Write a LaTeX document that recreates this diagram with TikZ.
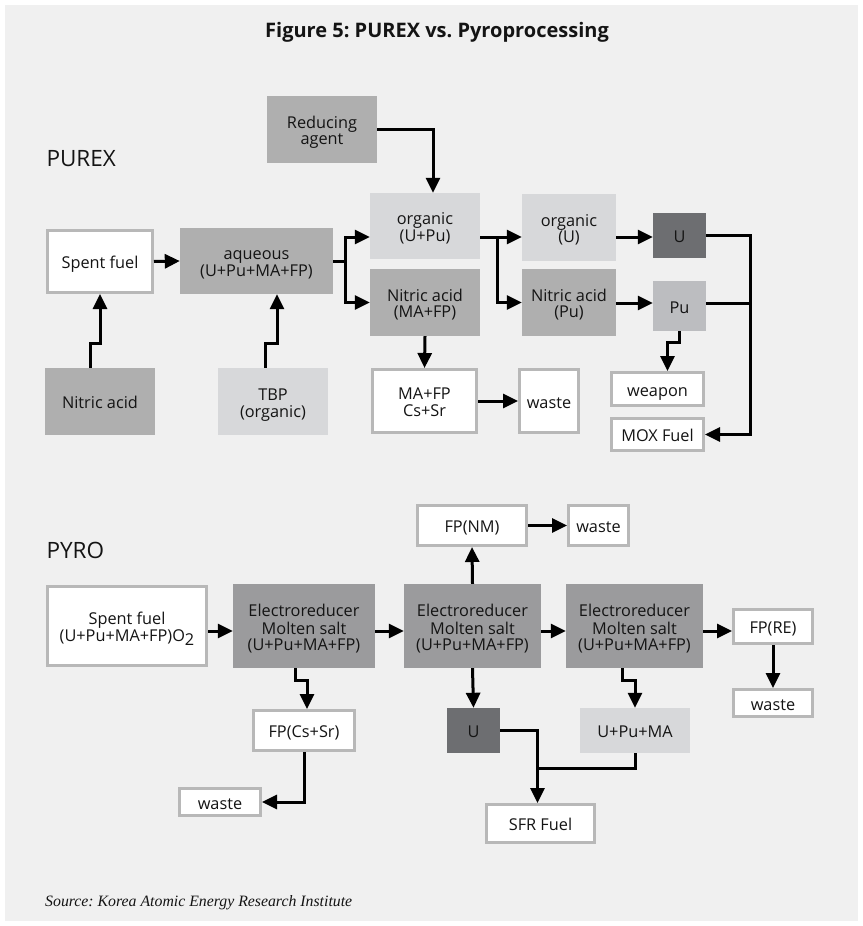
\documentclass[tikz,border=0pt]{standalone}
\usepackage{fontspec}
\setmainfont{Open Sans}
\newfontfamily\boxfont{Open Sans}
\newfontfamily\srcfont{Liberation Serif}
\usetikzlibrary{arrows.meta}
\definecolor{bg}{HTML}{F0F0F0}
\definecolor{medg}{HTML}{AFAFAF}
\definecolor{lightg}{HTML}{D7D8DA}
\definecolor{darkg}{HTML}{6D6E71}
\definecolor{pug}{HTML}{BCBDC0}
\definecolor{elecg}{HTML}{9B9B9D}
\definecolor{bordg}{HTML}{B8B8B8}
\definecolor{txt}{HTML}{141414}
% multi-line text, baseline at first line
\newcommand\tl[1]{\begin{tabular}[t]{@{}c@{}}#1\end{tabular}}
% filled box given by outer corners
\newcommand\bx[7]{\node[#6,minimum width={(#4)-(#2)},minimum height={(#5)-(#3)}] (#1) at ({((#2)+(#4))/2},{((#3)+(#5))/2}) {#7};}
% bordered box given by outer corners (3pt border)
\newcommand\wb[7]{\node[wbox,#6,minimum width={(#4)-(#2)-3},minimum height={(#5)-(#3)-3}] (#1) at ({((#2)+(#4))/2},{((#3)+(#5))/2}) {#7};}
\begin{document}
\frenchspacing
\begin{tikzpicture}[x=1pt,y=-1pt,
  box/.style={inner sep=0pt, font=\boxfont\fontsize{16.3}{16.2}\selectfont, text=txt, text height=14pt, text depth=0pt},
  l1/.style={},
  l2/.style={text depth=16.2pt},
  l3/.style={text depth=32.4pt},
  med/.style={box, fill=medg},
  light/.style={box, fill=lightg},
  dark/.style={box, fill=darkg},
  pubox/.style={box, fill=pug},
  elec/.style={box, fill=elecg},
  wbox/.style={box, fill=white, draw=bordg, line width=3pt},
  ln/.style={line width=3pt, draw=black},
  arr/.style={ln, -{Triangle[length=15pt,width=14pt]}},
  head/.style={anchor=base west, font=\fontsize{22.5}{22.5}\selectfont, text=txt}
]
\fill[white] (0,0) rectangle (862,926);
\fill[bg] (5,5) rectangle (858,921);
\useasboundingbox (0,0) rectangle (862,926);

\node[font=\bfseries\fontsize{20}{20}\selectfont, text=txt] (title) at (437,32) {Figure 5: PUREX vs. Pyroprocessing};
\node[head] (purex) at (43,166) {PUREX};
\node[head] (pyro) at (43,558) {PYRO};
\node[anchor=base west, inner sep=0pt, font=\srcfont\itshape\fontsize{15.8}{15.8}\selectfont, text=txt] (src) at (45,906) {Source: Korea Atomic Energy Research Institute};

% ---------- PUREX boxes ----------
\bx{ra}{267}{96}{377}{163}{med,l2}{\tl{Reducing\\agent}}
\wb{sf}{46}{229}{154}{294}{l1}{Spent fuel}
\bx{aq}{180}{228}{333}{294}{med,l2}{\tl{aqueous\\(U+Pu+MA+FP)}}
\bx{oup}{370}{193}{480}{259}{light,l2}{\tl{organic\\(U+Pu)}}
\bx{nam}{370}{269}{480}{336}{med,l2}{\tl{Nitric acid\\(MA+FP)}}
\bx{ou}{522}{194}{616}{261}{light,l2}{\tl{organic\\(U)}}
\bx{nap}{522}{269}{616}{336}{med,l2}{\tl{Nitric acid\\(Pu)}}
\bx{u}{653}{213}{706}{258}{dark}{U}
\bx{pu}{653}{281}{706}{331}{pubox}{Pu}
\wb{wp}{610}{371}{705}{407}{l1}{weapon}
\wb{mox}{610}{417}{705}{452}{l1}{MOX Fuel}
\bx{na}{45}{368}{155}{435}{med}{Nitric acid}
\bx{tbp}{218}{368}{328}{435}{light,l2}{\tl{TBP\\(organic)}}
\wb{mafp}{371}{368}{478}{434}{l2}{\tl{MA+FP\\Cs+Sr}}
\wb{wa}{518}{368}{580}{434}{l1}{waste}

% ---------- PUREX connectors ----------
\draw[arr] ([xshift=-10pt]na.north) |- (100,343) -- (sf.south);
\draw[arr] ([xshift=-8pt]tbp.north) |- (277,343) -- (aq.south -| 277,0);
\draw[arr] (sf.east) -- (aq.west);
\draw[ln] (aq.east) -- (345,261);
\draw[arr] (345,261) |- (oup.west |- 0,237);
\draw[arr] (345,261) |- (nam.west);
\draw[arr] (ra.east) -| ([xshift=8pt]oup.north);
\draw[arr] (oup.east |- 0,237) -- (ou.west |- 0,237);
\draw[arr] (497,237) |- (nap.west);
\draw[arr] (ou.east |- 0,237) -- (u.west |- 0,237);
\draw[arr] (nap.east |- 0,303) -- (pu.west |- 0,303);
\draw[arr] (u.east) -- (u.east -| 750,0) |- (mox.east);
\draw[ln] (pu.east |- 0,303) -- (750,303);
\draw[arr] (pu.south) -- ++(0pt,-11pt) -| ([xshift=10pt]wp.north);
\draw[arr] (nam.south) -- (mafp.north);
\draw[arr] (mafp.east) -- (wa.west);

% ---------- PYRO boxes ----------
\wb{sf2}{46}{585}{208}{667}{l2}{\tl{Spent fuel\\(U+Pu+MA+FP)O\raisebox{-4pt}{2}}}
\bx{e1}{233}{584}{375}{668}{elec,l3}{\tl{Electroreducer\\Molten salt\\(U+Pu+MA+FP)}}
\bx{e2}{404}{584}{541}{668}{elec,l3}{\tl{Electroreducer\\Molten salt\\(U+Pu+MA+FP)}}
\bx{e3}{566}{584}{703}{668}{elec,l3}{\tl{Electroreducer\\Molten salt\\(U+Pu+MA+FP)}}
\wb{fpre}{732}{608}{814}{645}{l1}{FP(RE)}
\wb{fpnm}{416}{504}{528}{547}{l1}{FP(NM)}
\wb{wb}{567}{504}{630}{547}{l1}{waste}
\wb{fpcs}{252}{709}{356}{752}{l1}{FP(Cs+Sr)}
\wb{wc}{178}{787}{262}{817}{l1}{waste}
\bx{u2}{447}{708}{500}{753}{dark}{U}
\bx{upm}{580}{708}{690}{753}{light}{U+Pu+MA}
\wb{sfr}{485}{803}{596}{844}{l1}{SFR Fuel}
\wb{wd}{732}{688}{814}{718}{l1}{waste}

% ---------- PYRO connectors ----------
\draw[arr] (sf2.east |- 0,631) -- (e1.west |- 0,631);
\draw[arr] (e1.east |- 0,631) -- (e2.west |- 0,631);
\draw[arr] (e2.east |- 0,631) -- (e3.west |- 0,631);
\draw[arr] (e3.east |- 0,631) -- (fpre.west |- 0,631);
\draw[arr] (e2.north) -- (fpnm.south);
\draw[arr] (fpnm.east) -- (wb.west);
\draw[arr] ([xshift=-9pt]e1.south) -- ++(0pt,-12pt) -| ([xshift=3pt]fpcs.north);
\draw[arr] (fpcs.south) |- (wc.east);
\draw[arr] (e2.south) -- (u2.north);
\draw[arr] ([xshift=-12pt]e3.south) -- ++(0pt,-12pt) -| (upm.north);
\draw[arr] (u2.east) -| ([xshift=-3pt]sfr.north);
\draw[ln] (upm.south) |- (537,768);
\draw[arr] (fpre.south) -- (wd.north);
\end{tikzpicture}
\end{document}
